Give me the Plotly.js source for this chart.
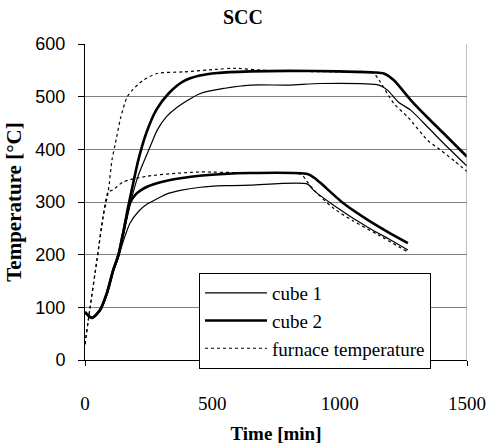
<!DOCTYPE html>
<html>
<head>
<meta charset="utf-8">
<script src="https://cdn.plot.ly/plotly-3.0.1.min.js"></script>
<style>html,body{margin:0;padding:0;background:#fff;}#chart{width:486px;height:444px;}</style>
</head>
<body>
<div id="chart"></div>
<script>
// Upper test (~550 °C)
const furnaceHighT = [0, 20, 47, 71, 91, 106, 118, 140, 165, 185, 228, 283, 386, 520, 583, 700, 850, 1000, 1130, 1150, 1213, 1268, 1346, 1398, 1450, 1500];
const furnaceHighV = [30, 100, 190, 272, 319, 380, 408, 460, 499, 512, 531, 544, 547, 552, 554, 550, 548, 547, 546, 535, 487, 461, 417, 398, 378, 358];

const cube2HighT = [0, 27, 59, 86, 111, 131, 150, 169, 189, 209, 240, 280, 330, 386, 450, 520, 650, 800, 1000, 1134, 1173, 1213, 1280, 1350, 1409, 1500];
const cube2HighV = [91, 80, 95, 127, 171, 199, 241, 290, 335, 379, 430, 475, 507, 529, 540, 545, 548, 549, 548, 546, 544, 531, 493, 458, 430, 386];

const cube1HighT = [0, 27, 59, 86, 111, 131, 150, 169, 189, 209, 228, 260, 283, 320, 362, 453, 550, 650, 800, 925, 1154, 1189, 1230, 1280, 1350, 1409, 1500];
const cube1HighV = [91, 80, 94, 125, 168, 196, 236, 280, 318, 350, 373, 410, 436, 462, 480, 506, 516, 522, 522, 525, 522, 512, 490, 474, 440, 411, 368];

// Lower test (~350 °C)
const furnaceLowT = [0, 20, 47, 71, 91, 110, 150, 244, 374, 453, 650, 850, 870, 900, 976, 1050, 1150, 1268];
const furnaceLowV = [30, 100, 190, 272, 319, 323, 338, 349, 355, 357, 355, 352, 340, 322, 288, 265, 238, 205];

const cube2LowT = [0, 27, 59, 86, 111, 131, 146, 165, 177, 200, 244, 300, 374, 450, 650, 874, 900, 925, 1016, 1110, 1200, 1268];
const cube2LowV = [91, 80, 95, 127, 171, 199, 233, 275, 298, 315, 329, 338, 345, 350, 355, 353, 346, 336, 297, 266, 240, 222];

const cube1LowT = [0, 27, 59, 86, 111, 131, 150, 177, 210, 244, 283, 320, 374, 453, 550, 650, 874, 898, 976, 1110, 1200, 1268];
const cube1LowV = [91, 80, 94, 125, 168, 195, 225, 260, 282, 296, 306, 315, 322, 328, 331, 332, 334, 322, 294, 252, 228, 209];

const xTicks = [0, 500, 1000, 1500];
const yTicks = [0, 100, 200, 300, 400, 500, 600];

const serif = 'Liberation Serif, Times New Roman, serif';
const thin = {color: '#000', width: 1.2, shape: 'spline', smoothing: 0.7};
const thick = {color: '#000', width: 2.6, shape: 'spline', smoothing: 0.7};
const dotted = {color: '#000', width: 1.2, dash: 'dot', shape: 'spline', smoothing: 0.7};

const traces = [
  {x: cube1HighT, y: cube1HighV, name: 'cube 1', mode: 'lines', line: thin, legendgroup: 'c1', showlegend: true},
  {x: cube2HighT, y: cube2HighV, name: 'cube 2', mode: 'lines', line: thick, legendgroup: 'c2', showlegend: true},
  {x: furnaceHighT, y: furnaceHighV, name: 'furnace temperature', mode: 'lines', line: dotted, legendgroup: 'f', showlegend: true},
  {x: cube1LowT, y: cube1LowV, name: 'cube 1', mode: 'lines', line: thin, legendgroup: 'c1', showlegend: false},
  {x: cube2LowT, y: cube2LowV, name: 'cube 2', mode: 'lines', line: thick, legendgroup: 'c2', showlegend: false},
  {x: furnaceLowT, y: furnaceLowV, name: 'furnace temperature', mode: 'lines', line: dotted, legendgroup: 'f', showlegend: false}
];

const layout = {
  width: 486, height: 444,
  margin: {l: 85, r: 19, t: 44, b: 84},
  paper_bgcolor: '#fff', plot_bgcolor: '#fff',
  title: {text: 'SCC', font: {family: serif, size: 20, weight: 'bold', color: '#000'}, x: 0.5, xref: 'container', y: 1 - 17/444, yref: 'container', yanchor: 'middle'},
  xaxis: {
    range: [0, 1500], tickvals: xTicks, ticktext: xTicks.map(String),
    showgrid: false, zeroline: false, showline: true, linecolor: '#000', linewidth: 1,
    ticks: 'outside', ticklen: 5, tickcolor: '#000',
    ticklabelstandoff: 21,
    tickfont: {family: serif, size: 19, color: '#000'},
    title: {text: 'Time [min]', font: {family: serif, size: 19, weight: 'bold', color: '#000'}, standoff: 16}
  },
  yaxis: {
    range: [0, 600], tickvals: yTicks, ticktext: yTicks.map(String),
    showgrid: true, gridcolor: '#808080', gridwidth: 1, zeroline: false,
    showline: true, linecolor: '#000', linewidth: 1,
    ticks: 'outside', ticklen: 6, tickcolor: '#000',
    ticklabelstandoff: 9,
    tickfont: {family: 'Liberation Sans, Arial, sans-serif', size: 18, color: '#000'},
    title: {text: 'Temperature [°C]', font: {family: serif, size: 21, weight: 'bold', color: '#000'}, standoff: 8}
  },
  showlegend: true,
  legend: {
    x: (199 - 85) / 382, y: (360 - 273) / 316, xanchor: 'left', yanchor: 'top',
    bgcolor: '#fff', bordercolor: '#000', borderwidth: 1,
    font: {family: serif, size: 19, color: '#000'},
    itemwidth: 62, tracegroupgap: 0
  },
  shapes: [
    {type: 'line', xref: 'x', yref: 'y', x0: 1500, x1: 1500, y0: 0, y1: 600, line: {color: '#808080', width: 1}}
  ]
};

Plotly.newPlot('chart', traces, layout, {displayModeBar: false, staticPlot: true});
</script>
</body>
</html>
